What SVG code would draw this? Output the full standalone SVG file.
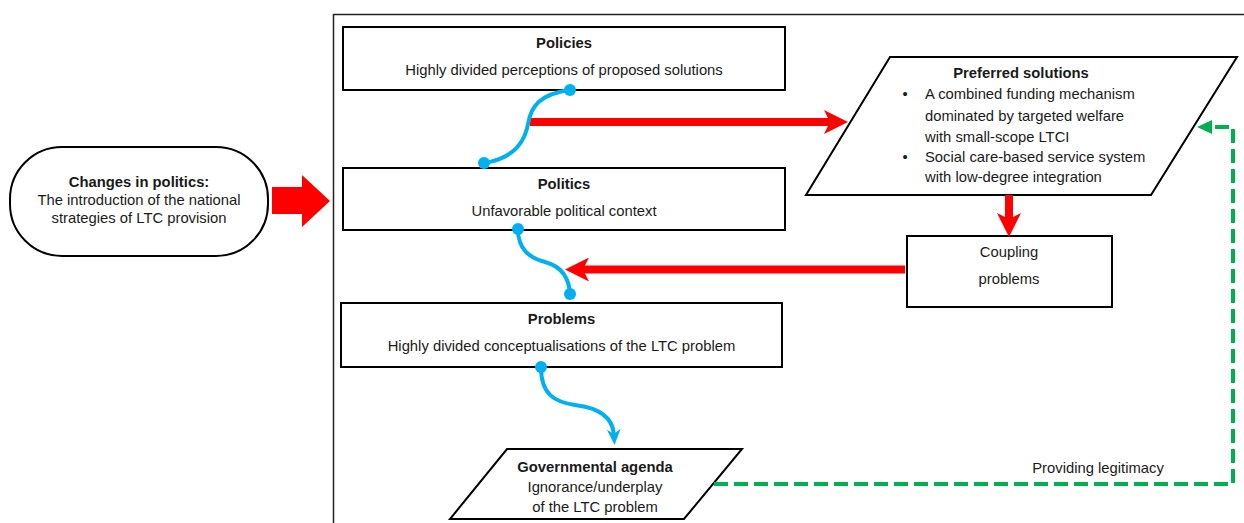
<svg xmlns="http://www.w3.org/2000/svg" width="1244" height="523" viewBox="0 0 1244 523">
<style>
.box{fill:#fff;stroke:#000;stroke-width:2}
.t{font-family:"Liberation Sans",Arial,sans-serif;font-size:14.8px;fill:#1a1a1a}
.c{text-anchor:middle}
.b{font-weight:bold}
.red{stroke:#ff0000;stroke-width:8;fill:none}
.blue{stroke:#00b0f0;stroke-width:4;fill:none;stroke-linecap:round}
.dot{fill:#00b0f0}
.green{stroke:#00b050;stroke-width:4;fill:none;stroke-dasharray:14 6}
</style>
<defs>
<marker id="redHead" markerUnits="userSpaceOnUse" markerWidth="24" markerHeight="24" refX="14" refY="12" orient="auto">
<path d="M0,0 L24,12 L0,24 L6,12 Z" fill="#ff0000"/>
</marker>
<marker id="blueHead" markerUnits="userSpaceOnUse" markerWidth="16" markerHeight="14" refX="6" refY="7" orient="auto">
<path d="M0,0 L16,7 L0,14 L5,7 Z" fill="#00b0f0"/>
</marker>
<marker id="greenHead" markerUnits="userSpaceOnUse" markerWidth="15" markerHeight="14" refX="5" refY="7" orient="auto">
<path d="M0,0 L15,7 L0,14 Z" fill="#00b050"/>
</marker>
</defs>
<rect x="0" y="0" width="1244" height="523" fill="#fff"/>
<rect id="frame" x="333.5" y="14.5" width="1000" height="600" fill="none" stroke="#222" stroke-width="1.5"/>

<g id="changes">
<rect class="box" x="10" y="147" width="258" height="109" rx="52" ry="52"/>
<text class="t c b" x="139" y="187">Changes in politics:</text>
<text class="t c" x="139" y="205">The introduction of the national</text>
<text class="t c" x="139" y="223">strategies of LTC provision</text>
</g>

<g id="policies">
<rect class="box" x="343" y="27" width="442" height="63"/>
<text class="t c b" x="564" y="48">Policies</text>
<text class="t c" x="564" y="75">Highly divided perceptions of proposed solutions</text>
</g>

<g id="politics">
<rect class="box" x="343" y="168" width="442" height="62"/>
<text class="t c b" x="564" y="189">Politics</text>
<text class="t c" x="564" y="216">Unfavorable political context</text>
</g>

<g id="problems">
<rect class="box" x="341" y="303" width="441" height="64"/>
<text class="t c b" x="561.5" y="324">Problems</text>
<text class="t c" x="561.5" y="351">Highly divided conceptualisations of the LTC problem</text>
</g>

<g id="preferred">
<polygon class="box" points="890,57 1237,57 1151,195 806,195"/>
<text class="t c b" x="1021" y="78">Preferred solutions</text>
<text class="t c" x="905" y="99">•</text>
<text class="t" x="925" y="99">A combined funding mechanism</text>
<text class="t" x="925" y="121">dominated by targeted welfare</text>
<text class="t" x="925" y="142">with small-scope LTCI</text>
<text class="t c" x="905" y="162">•</text>
<text class="t" x="925" y="162">Social care-based service system</text>
<text class="t" x="925" y="182">with low-degree integration</text>
</g>

<g id="coupling">
<rect class="box" x="907" y="236" width="205" height="71"/>
<text class="t c" x="1009" y="257">Coupling</text>
<text class="t c" x="1009" y="284">problems</text>
</g>

<g id="agenda">
<polygon class="box" points="507,449 742,449 684,519 450,519"/>
<text class="t c b" x="595" y="472">Governmental agenda</text>
<text class="t c" x="595" y="492">Ignorance/underplay</text>
<text class="t c" x="595" y="512">of the LTC problem</text>
</g>

<g id="connectors">
<polygon points="272,187 302,187 302,175 330,201 302,227 302,214 272,214" fill="#ff0000"/>
<line class="red" x1="530" y1="122" x2="838" y2="122" marker-end="url(#redHead)"/>
<line class="red" x1="1009" y1="195" x2="1009" y2="227" marker-end="url(#redHead)"/>
<line class="red" x1="905" y1="269.5" x2="575" y2="269.5" marker-end="url(#redHead)"/>
<path class="blue" d="M570,90 C540,94 531,106 528,124 C524,146 510,159 484,163"/>
<circle class="dot" cx="570" cy="90" r="6"/>
<circle class="dot" cx="484" cy="163" r="6"/>
<path class="blue" d="M518,229 C518,250 530,258 545,262 C560,266 569,276 570,294"/>
<circle class="dot" cx="518" cy="229" r="6"/>
<circle class="dot" cx="570" cy="294" r="6"/>
<path class="blue" d="M541,367 C541,395 555,402 575,405 C600,408 613,418 614,435" marker-end="url(#blueHead)"/>
<circle class="dot" cx="541" cy="367" r="6"/>
<path class="green" d="M714,484 H1233 V127 H1207" marker-end="url(#greenHead)"/>
<text class="t c" x="1098" y="473">Providing legitimacy</text>
</g>
</svg>
